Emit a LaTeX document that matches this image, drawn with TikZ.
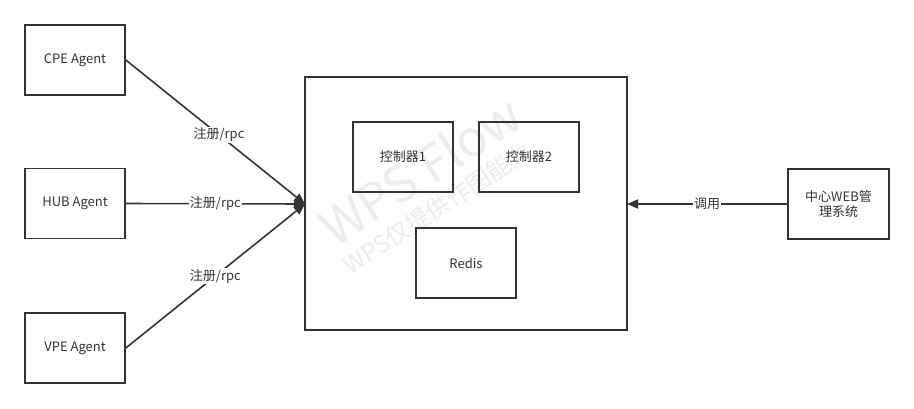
\documentclass[tikz,border=0pt]{standalone}
\usepackage{fontspec}
\setmainfont{Noto Sans CJK SC}
\usetikzlibrary{arrows.meta}
\definecolor{ink}{HTML}{333333}
\definecolor{wm}{HTML}{EDEDED}
\begin{document}
\begin{tikzpicture}[x=1pt,y=-1pt,
  box/.style={draw=ink,line width=1.6pt,fill=white,minimum width=100pt,minimum height=70pt,inner sep=0pt,font=\fontsize{13}{15}\selectfont,text=ink,align=center},
  bigbox/.style={draw=ink,line width=1.6pt,minimum width=322pt,minimum height=253pt,inner sep=0pt},
  conn/.style={draw=ink,line width=1.6pt,-{Triangle[length=11pt,width=9pt]}},
  lbl/.style={fill=white,inner sep=1pt,font=\fontsize{13}{15}\selectfont,text=ink}]
\useasboundingbox (0,0) rectangle (914,408);
\fill[white] (0,0) rectangle (914,408);
% big container
\node[bigbox] (main) at (466,203.5) {};
% watermark
\node[text=wm,rotate=33,font=\fontsize{50}{54}\selectfont] (wm1) at (420,170) {WPS Flow};
\node[text=wm,rotate=33,font=\fontsize{24}{26}\selectfont] (wm2) at (437,208) {WPS仅提供作图能力};
% inner boxes
\node[box,fill=none] (c1) at (403,157) {控制器1};
\node[box,fill=none] (c2) at (529,157) {控制器2};
\node[box,fill=none] (redis) at (466,263) {Redis};
% agents
\node[box] (cpe) at (75,60) {CPE Agent};
\node[box] (hub) at (75,203.5) {HUB Agent};
\node[box] (vpe) at (75,348) {VPE Agent};
\node[box,minimum width=101pt] (web) at (838.5,204) {中心WEB管\\理系统};
\coordinate (inL) at (305,204);
\coordinate (inR) at (627,204);
\draw[conn] (cpe.east) -- node[lbl,pos=0.52] {注册/rpc} (inL);
\draw[conn] (hub.east) -- node[lbl,pos=0.5] {注册/rpc} (inL);
\draw[conn] (vpe.east) -- node[lbl,pos=0.5] {注册/rpc} (inL);
\draw[conn] (web.west) -- node[lbl,pos=0.5] {调用} (inR);
\end{tikzpicture}
\end{document}
